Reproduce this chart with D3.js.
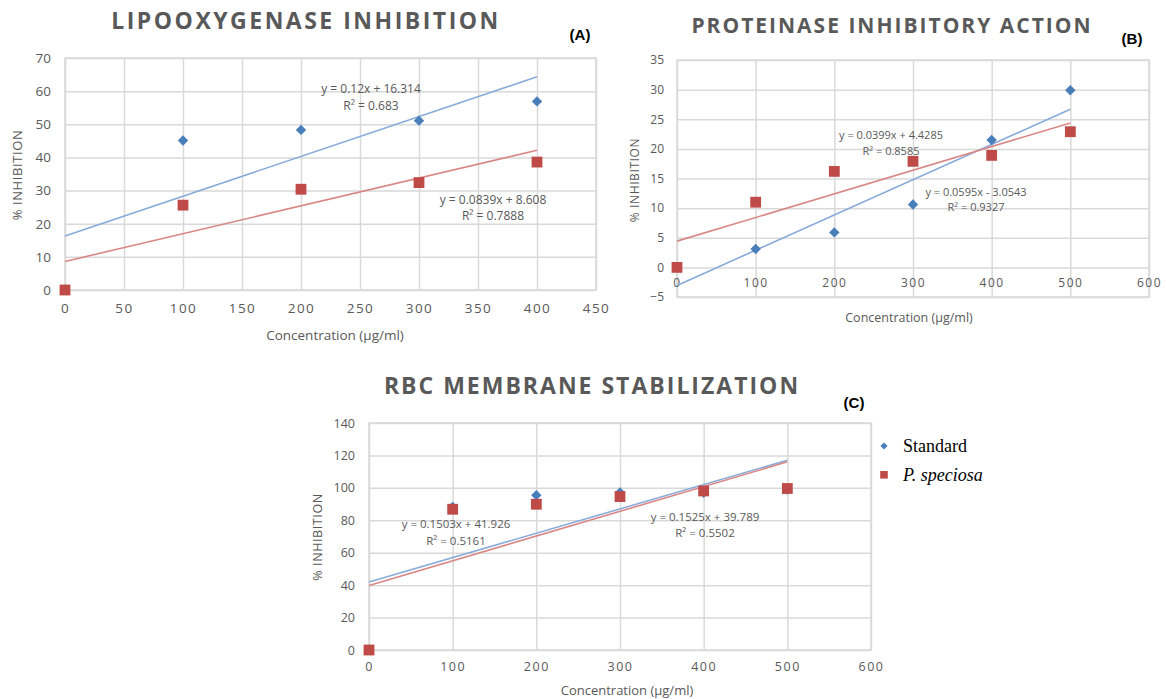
<!DOCTYPE html>
<html>
<head>
<meta charset="utf-8">
<script src="https://cdn.jsdelivr.net/npm/d3@7"></script>
<style>
  body { margin: 0; background: #fff; }
  text { font-family: "Open Sans", sans-serif; }
</style>
</head>
<body>
<svg id="fig" width="1166" height="699"></svg>
<script>
// ---- data ----
const concA = [0, 100, 200, 300, 400];
const standardA = [0, 45.1, 48.3, 51.1, 56.9];
const speciosaA = [0, 25.6, 30.4, 32.4, 38.6];
const trendStdA = [0.12, 16.314];
const trendSpeA = [0.0839, 8.608];

const concB = [0, 100, 200, 300, 400, 500];
const standardB = [0, 3.1, 5.9, 10.6, 21.5, 29.9];
const speciosaB = [0, 11.0, 16.2, 17.9, 18.9, 22.9];
const trendStdB = [0.0595, -3.0543];
const trendSpeB = [0.0399, 4.4285];

const concC = [0, 100, 200, 300, 400, 500];
const standardC = [0, 88.3, 95.5, 97.1, 97.0, 99.0];
const speciosaC = [0, 86.8, 89.9, 94.6, 98.1, 99.6];
const trendStdC = [0.1503, 41.926];
const trendSpeC = [0.1525, 39.789];

const seriesNames = ["Standard", "P. speciosa"];

const blue = "#4a7ebb", red = "#be4b48";
const blueLine = "#88abd9", redLine = "#d98785";
const gridColor = "#d9d9d9", labelColor = "#595959";

const svg = d3.select("#fig");

function drawPanel(p) {
    const g = svg.append("g");
    const x = d3.scaleLinear().domain(p.xDomain).range([p.left, p.right]);
    const y = d3.scaleLinear().domain(p.yDomain).range([p.bottom, p.top]);
    const w = p.right - p.left, h = p.bottom - p.top;

    // grid
    const gy = g.append("g").attr("transform", `translate(${p.left},0)`)
        .call(d3.axisLeft(y).tickValues(p.yTicks).tickSize(-w).tickFormat(""));
    const gx = g.append("g").attr("transform", `translate(0,${p.bottom})`)
        .call(d3.axisBottom(x).tickValues(p.xTicks).tickSize(h).tickFormat(""));
    gx.selectAll(".tick line").attr("y2", -h);
    g.selectAll(".domain").remove();
    g.selectAll(".tick line").attr("stroke", gridColor).attr("stroke-width", 1.5);
    g.append("rect").attr("x", p.left).attr("y", p.top).attr("width", w).attr("height", h)
        .attr("fill", "none").attr("stroke", gridColor).attr("stroke-width", 1.5);

    // tick labels
    const ly = g.append("g").attr("transform", `translate(${p.left},0)`)
        .call(d3.axisLeft(y).tickValues(p.yTicks).tickSize(0).tickPadding(p.yPad || 14));
    const lx = g.append("g").attr("transform", `translate(0,${y(0)})`)
        .call(d3.axisBottom(x).tickValues(p.xTicks).tickSize(0).tickPadding(p.xPad || 12));
    [ly, lx].forEach(a => {
        a.select(".domain").remove();
        a.selectAll("text").attr("fill", labelColor).style("font-size", p.tickFont + "px")
            .style("font-family", "Open Sans, sans-serif");
    });
    lx.selectAll("text").style("letter-spacing", "1.5px");

    // trendlines
    const xMax = d3.max(p.conc);
    [[p.trendStd, blueLine], [p.trendSpe, redLine]].forEach(([t, c]) => {
        g.append("line")
            .attr("x1", x(0)).attr("y1", y(t[1]))
            .attr("x2", x(xMax)).attr("y2", y(t[0] * xMax + t[1]))
            .attr("stroke", c).attr("stroke-width", 1.6);
    });

    // markers
    const diamond = d3.symbol().type(d3.symbolSquare).size(p.diamondSize || 54);
    g.selectAll(".std").data(p.conc.map((c, i) => [c, p.std[i]])).enter()
        .append("path").attr("class", "std")
        .attr("d", diamond)
        .attr("transform", d => `translate(${x(d[0])},${y(d[1])}) rotate(45)`)
        .attr("fill", blue);
    g.selectAll(".spe").data(p.conc.map((c, i) => [c, p.spe[i]])).enter()
        .append("rect").attr("class", "spe")
        .attr("x", d => x(d[0]) - 5.4).attr("y", d => y(d[1]) - 5.4)
        .attr("width", 10.8).attr("height", 10.8)
        .attr("fill", red);

    // equation labels
    p.eqs.forEach(e => {
        const t = g.append("text").attr("text-anchor", "middle")
            .attr("fill", labelColor).style("font-size", p.eqFont + "px");
        t.append("tspan").attr("x", e.x).attr("y", e.y).text(e.lines[0]);
        t.append("tspan").attr("x", e.x).attr("y", e.y + e.gap).text(e.lines[1]);
    });

    // titles
    g.append("text").attr("x", p.titleX).attr("y", p.titleY).attr("text-anchor", "middle")
        .attr("fill", labelColor).style("font-weight", "bold").style("font-size", p.titleFont + "px")
        .style("letter-spacing", p.titleSpacing + "px").text(p.title);
    g.append("text").attr("x", p.tagX).attr("y", p.tagY).attr("text-anchor", "middle")
        .attr("fill", "#000").style("font-weight", "bold").style("font-size", "15px")
        .style("font-family", "Liberation Sans, Arial, sans-serif").text(p.tag);
    g.append("text").attr("x", p.xTitleX).attr("y", p.xTitleY).attr("text-anchor", "middle")
        .attr("fill", labelColor).style("font-size", p.axisFont + "px").text("Concentration (µg/ml)");
    g.append("text").attr("text-anchor", "middle")
        .attr("transform", `translate(${p.yTitleX},${p.yTitleY}) rotate(-90)`)
        .attr("fill", labelColor).style("font-size", p.axisFont - 0.5 + "px")
        .style("letter-spacing", "0.6px").text("% INHIBITION");
}

drawPanel({
    left: 65, right: 596, top: 58, bottom: 290,
    xDomain: [0, 450], yDomain: [0, 70],
    xTicks: d3.range(0, 451, 50), yTicks: d3.range(0, 71, 10),
    conc: concA, std: standardA, spe: speciosaA, trendStd: trendStdA, trendSpe: trendSpeA,
    tickFont: 13.5, eqFont: 12, axisFont: 13.5, xPad: 13,
    eqs: [
        { x: 371, y: 93, gap: 17, lines: ["y = 0.12x + 16.314", "R² = 0.683"] },
        { x: 493, y: 204, gap: 16, lines: ["y = 0.0839x + 8.608", "R² = 0.7888"] }
    ],
    title: "LIPOOXYGENASE INHIBITION", titleX: 306, titleY: 29, titleFont: 23, titleSpacing: 2.5,
    tag: "(A)", tagX: 580, tagY: 40,
    xTitleX: 335, xTitleY: 340, yTitleX: 22, yTitleY: 175
});

drawPanel({
    left: 677, right: 1149, top: 60, bottom: 297,
    xDomain: [0, 600], yDomain: [-5, 35],
    xTicks: d3.range(0, 601, 100), yTicks: d3.range(-5, 36, 5),
    conc: concB, std: standardB, spe: speciosaB, trendStd: trendStdB, trendSpe: trendSpeB,
    tickFont: 12, eqFont: 11, axisFont: 12.5, xPad: 11, yPad: 13,
    eqs: [
        { x: 891, y: 139, gap: 16, lines: ["y = 0.0399x + 4.4285", "R² = 0.8585"] },
        { x: 976, y: 196, gap: 15, lines: ["y = 0.0595x - 3.0543", "R² = 0.9327"] }
    ],
    title: "PROTEINASE INHIBITORY ACTION", titleX: 892, titleY: 33, titleFont: 21, titleSpacing: 2,
    tag: "(B)", tagX: 1132, tagY: 44,
    xTitleX: 909, xTitleY: 322, yTitleX: 639, yTitleY: 180
});

drawPanel({
    left: 369, right: 871, top: 423, bottom: 650,
    xDomain: [0, 600], yDomain: [0, 140],
    xTicks: d3.range(0, 601, 100), yTicks: d3.range(0, 141, 20),
    conc: concC, std: standardC, spe: speciosaC, trendStd: trendStdC, trendSpe: trendSpeC,
    tickFont: 12.5, eqFont: 11.5, axisFont: 13, xPad: 12, yPad: 14,
    eqs: [
        { x: 456, y: 528, gap: 17, lines: ["y = 0.1503x + 41.926", "R² = 0.5161"] },
        { x: 705, y: 521, gap: 16, lines: ["y = 0.1525x + 39.789", "R² = 0.5502"] }
    ],
    title: "RBC MEMBRANE STABILIZATION", titleX: 592, titleY: 394, titleFont: 23, titleSpacing: 2,
    tag: "(C)", tagX: 854, tagY: 408,
    xTitleX: 627, xTitleY: 695, yTitleX: 322, yTitleY: 537
});

// legend
const legend = svg.append("g").attr("transform", "translate(884,446)");
legend.append("path").attr("d", d3.symbol().type(d3.symbolSquare).size(26))
    .attr("transform", "rotate(45)").attr("fill", blue);
legend.append("rect").attr("x", -3.8).attr("y", 25).attr("width", 7.6).attr("height", 7.6).attr("fill", red);
legend.selectAll(".lt").data(seriesNames).enter().append("text")
    .attr("x", 19).attr("y", (d, i) => i * 29 + 6)
    .style("font-family", "Liberation Serif, Times New Roman, serif")
    .style("font-size", "18px").style("font-style", (d, i) => i ? "italic" : "normal")
    .attr("fill", "#000").text(d => d);
</script>
</body>
</html>
